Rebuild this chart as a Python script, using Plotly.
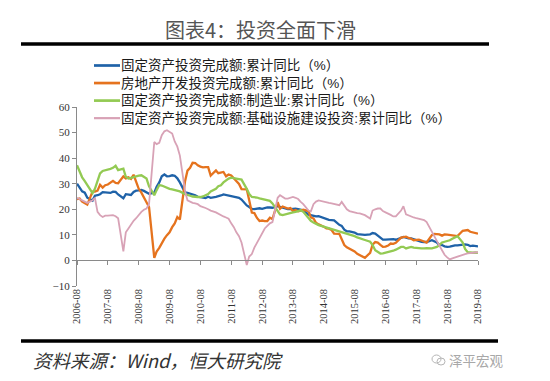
import pandas as pd
import plotly.graph_objects as go

# ---------------- data (monthly cumulative YoY, %, Jan not published) ----------------
months = [d for d in pd.date_range("2006-08-01", "2019-08-01", freq="MS") if d.month != 1]

fai_total = [
    30.0, 28.5, 27.0, 26.5, 24.5,
    23.4, 25.3, 25.5, 25.9, 26.7, 26.6, 26.7, 26.4, 26.9, 26.8, 25.8,
    24.3, 25.9, 25.7, 25.6, 26.8, 27.3, 27.4, 27.6, 27.2, 26.8, 26.1,
    26.5, 28.8, 30.5, 32.9, 33.6, 32.9, 33.0, 33.3, 33.1, 32.1, 30.5,
    26.6, 26.4, 26.1, 25.9, 25.5, 24.9, 24.8, 24.5, 24.4, 24.9, 24.5,
    24.9, 25.0, 25.4, 25.8, 25.6, 25.4, 25.0, 24.9, 24.9, 24.5, 23.8,
    21.5, 20.9, 20.2, 20.1, 20.4, 20.4, 20.2, 20.5, 20.7, 20.7, 20.6,
    21.2, 20.9, 20.6, 20.4, 20.1, 20.1, 20.3, 20.2, 20.1, 19.9, 19.6,
    17.9, 17.6, 17.3, 17.2, 17.3, 17.0, 16.5, 16.1, 15.9, 15.8, 15.7,
    13.9, 13.5, 12.0, 11.4, 11.4, 11.2, 10.9, 10.3, 10.2, 10.2, 10.0,
    10.2, 10.7, 10.5, 9.6, 9.0, 8.1, 8.1, 8.2, 8.3, 8.3, 8.1,
    8.9, 9.2, 8.9, 8.6, 8.6, 8.3, 7.8, 7.5, 7.3, 7.2, 7.2,
    7.9, 7.5, 7.0, 6.1, 6.0, 5.5, 5.3, 5.4, 5.7, 5.9, 5.9,
    6.1, 6.3, 6.1, 5.6, 5.8, 5.7, 5.5,
]

real_estate = [
    24.0, 24.2, 23.0, 22.3, 21.8,
    26.9, 26.9, 27.3, 29.6, 28.5, 29.4, 29.7, 30.3, 31.1, 30.3, 30.2,
    32.9, 32.1, 32.5, 31.9, 33.5, 30.9, 28.0, 26.5, 24.6, 22.7, 20.9,
    1.0, 3.5, 4.9, 6.8, 8.5, 9.9, 11.0, 13.0, 14.5, 17.0, 16.0,
    31.1, 35.1, 36.2, 38.2, 38.1, 37.2, 36.7, 36.4, 36.5, 36.5, 33.2,
    35.2, 34.1, 34.3, 34.6, 32.9, 33.6, 33.2, 32.0, 31.1, 29.9, 27.9,
    27.8, 23.5, 18.7, 18.5, 16.6, 15.4, 15.6, 15.4, 15.4, 16.7, 16.2,
    22.8, 20.2, 21.1, 20.6, 20.3, 20.5, 19.3, 19.7, 19.2, 19.5, 19.8,
    19.3, 16.8, 16.4, 14.7, 14.1, 13.7, 13.2, 12.5, 12.4, 11.9, 10.5,
    10.4, 8.5, 6.0, 5.1, 4.6, 4.3, 3.5, 2.6, 2.0, 1.3, 1.0,
    3.0, 6.2, 7.2, 7.0, 6.1, 5.3, 5.4, 5.8, 6.6, 6.5, 6.9,
    8.9, 9.1, 9.3, 8.8, 8.5, 7.9, 7.9, 8.1, 7.8, 7.5, 7.0,
    9.9, 10.4, 10.3, 10.2, 9.7, 10.2, 10.1, 9.9, 9.7, 9.7, 9.5,
    11.6, 11.8, 11.9, 11.2, 10.9, 10.6, 10.5,
]

manufacturing = [
    37.2, 35.0, 32.5, 31.0, 29.5,
    26.3, 28.0, 31.0, 34.0, 35.0, 35.2, 35.5, 35.8, 36.2, 37.0, 35.3,
    35.9, 32.7, 32.0, 32.3, 32.7, 33.0, 33.2, 33.3, 32.8, 32.0, 29.0,
    25.5, 27.5, 29.5, 29.3, 28.8, 28.3, 28.0, 27.8, 27.5, 27.3, 27.0,
    25.9, 25.5, 25.3, 25.0, 24.8, 24.8, 24.8, 25.0, 25.5, 26.0, 27.0,
    28.0, 29.0, 29.4, 30.5, 31.4, 32.0, 32.4, 32.3, 32.0, 31.8, 31.6,
    28.0, 26.0, 24.8, 24.8, 24.6, 24.3, 24.0, 23.8, 23.5, 23.3, 22.3,
    19.5, 18.0, 17.7, 18.0, 18.4, 18.6, 18.8, 19.0, 19.3, 19.6, 19.0,
    16.4, 15.5, 14.8, 14.2, 13.8, 13.5, 13.2, 12.9, 12.5, 12.2, 12.0,
    11.2, 11.0, 10.8, 10.5, 10.0, 9.9, 9.5, 9.0, 8.6, 8.2, 8.0,
    7.3, 6.0, 4.0, 3.3, 2.7, 2.8, 3.0, 3.2, 3.4, 3.8, 4.2,
    5.3, 5.3, 4.7, 5.0, 5.3, 5.0, 4.8, 4.6, 4.7, 4.7, 4.8,
    4.7, 5.0, 5.3, 6.0, 7.0, 7.3, 7.6, 7.9, 8.5, 9.0, 9.5,
    7.0, 4.5, 3.2, 3.0, 3.0, 3.1, 3.0,
]

infrastructure = [
    24.5, 24.0, 23.5, 23.0, 22.5,
    23.5, 24.5, 19.0, 17.7, 17.0, 17.5, 17.5, 17.7, 17.7, 17.3, 16.5,
    3.5, 11.0, 12.5, 14.0, 15.5, 16.5, 18.0, 19.0, 19.8, 20.3, 22.0,
    46.3, 45.5, 46.0, 49.0, 50.5, 50.9, 50.2, 49.6, 46.5, 44.5, 41.0,
    27.0, 23.5, 22.9, 22.5, 22.3, 22.0, 21.2, 20.9, 20.5, 20.0, 19.5,
    18.8, 18.3, 17.5, 17.2, 16.8, 16.3, 14.5, 13.0, 11.0, 9.5, 7.0,
    -1.8, 1.5, 2.5, 5.0, 7.0, 9.0, 11.0, 12.5, 13.5, 14.5, 15.0,
    24.5, 25.5, 25.0, 24.2, 24.2, 24.5, 24.8, 24.5, 24.0, 22.9, 22.0,
    19.5, 19.2, 22.0, 23.0, 23.5, 23.2, 22.9, 22.8, 22.5, 22.3, 22.0,
    21.6, 22.9, 21.5, 20.0, 19.3, 19.0, 18.8, 18.5, 18.4, 18.0, 17.7,
    16.4, 19.5, 20.0, 20.3, 20.3, 19.3, 18.8, 18.4, 17.8, 17.2, 17.2,
    19.5, 21.2, 18.0, 17.5, 17.0, 16.8, 16.5, 16.3, 16.0, 15.8, 15.0,
    11.0, 9.5, 7.2, 5.8, 4.0, 2.2, 1.2, 0.4, 0.8, 1.2, 1.5,
    2.3, 2.5, 2.8, 3.0, 3.0, 3.1, 3.2,
]

series_names = [
    "固定资产投资完成额:累计同比（%）",
    "房地产开发投资完成额:累计同比（%）",
    "固定资产投资完成额:制造业:累计同比（%）",
    "固定资产投资完成额:基础设施建设投资:累计同比（%）",
]
series_values = [fai_total, real_estate, manufacturing, infrastructure]
series_colors = ["#1F62A8", "#E5731E", "#93CA53", "#D8A2B6"]
series_widths = [2.3, 2.3, 2.3, 1.8]

tick_dates = list(pd.date_range("2006-08-01", "2019-08-01", freq="12MS"))
tick_labels = [d.strftime("%Y-%m") for d in tick_dates]

title_text = "图表4：投资全面下滑"
source_text = "资料来源：Wind，恒大研究院"
brand_text = "泽平宏观"

# ---------------- geometry ----------------
OFF = 8                      # default body margin of the written page
W, H = 550 - OFF, 381 - OFF  # figure size so that it fits the window
PLOT_L, PLOT_R, PLOT_T, PLOT_B = 77, 478, 107, 286   # plot area in window pixels
L = PLOT_L - OFF
T = PLOT_T - OFF
R = W - (PLOT_R - OFF)
B = H - (PLOT_B - OFF)
PW, PH = W - L - R, H - T - B


def px(x):
    """window x pixel -> paper coordinate"""
    return (x - OFF - L) / PW


def py(y):
    """window y pixel -> paper coordinate"""
    return (H - B - (y - OFF)) / PH


fig = go.Figure()
for name, vals, col, w in zip(series_names, series_values, series_colors, series_widths):
    fig.add_trace(go.Scatter(x=months, y=vals, mode="lines", name=name,
                             line=dict(color=col, width=w), showlegend=False))

# helper trace so the zero-crossing axis is rendered
fig.add_trace(go.Scatter(x=[months[0]], y=[None], xaxis="x2", mode="lines",
                         showlegend=False, hoverinfo="skip"))

axis_font = dict(family="Liberation Serif, Times New Roman, serif", size=11, color="#333333")

fig.update_layout(
    width=W, height=H,
    margin=dict(l=L, r=R, t=T, b=B, pad=0, autoexpand=False),
    paper_bgcolor="white", plot_bgcolor="white",
    font=dict(family="Noto Sans CJK SC", color="#222222"),
    showlegend=False,
    xaxis=dict(
        type="date", range=[months[0], months[-1]],
        tickmode="array", tickvals=tick_dates, ticktext=tick_labels,
        tickangle=-90, tickfont=dict(axis_font, size=10.5), ticks="", showline=False,
        showgrid=False, zeroline=False, automargin=False,
    ),
    xaxis2=dict(
        type="date", overlaying="x", matches="x", anchor="free",
        position=10 / 70,
        tickmode="array", tickvals=tick_dates, showticklabels=False,
        ticks="outside", ticklen=4, tickcolor="#8A8A8A", tickwidth=1,
        showline=True, linecolor="#8A8A8A", linewidth=1, showgrid=False,
        zeroline=False,
    ),
    yaxis=dict(
        range=[-10, 60], dtick=10, tick0=0,
        ticks="outside", ticklen=4, tickcolor="#8A8A8A",
        showline=True, linecolor="#8A8A8A", linewidth=1,
        showgrid=False, zeroline=False, tickfont=axis_font, automargin=False,
    ),
)

# legend (drawn manually to match the compact original layout)
LEG_FONT = 13.5
row_gap = 1.3 * LEG_FONT
first_row = 65.5
for i, (col, w) in enumerate(zip(series_colors, series_widths)):
    ry = first_row + i * row_gap
    fig.add_shape(type="line", xref="paper", yref="paper", x0=px(94), x1=px(120),
                  y0=py(ry), y1=py(ry), line=dict(color=col, width=w + 0.4))
    fig.add_annotation(text=series_names[i], x=px(120), y=py(ry),
                       xref="paper", yref="paper", showarrow=False,
                       xanchor="left", yanchor="middle", borderpad=0,
                       font=dict(family="Liberation Sans, Noto Sans CJK SC",
                                 size=LEG_FONT, color="#1A1A1A"))

# title, rules, source and brand
fig.add_annotation(text=title_text, x=px(260), y=py(30), xref="paper", yref="paper",
                   showarrow=False, xanchor="center", yanchor="middle",
                   font=dict(family="Noto Sans CJK SC", size=20, color="#555555"))
fig.add_shape(type="line", xref="paper", yref="paper", x0=px(21), x1=px(489),
              y0=py(44), y1=py(44), line=dict(color="black", width=3.5))
fig.add_shape(type="line", xref="paper", yref="paper", x0=px(21), x1=px(498),
              y0=py(341), y1=py(341), line=dict(color="black", width=3.5))
fig.add_annotation(text="<i>" + source_text + "</i>", x=px(31), y=py(360),
                   xref="paper", yref="paper", showarrow=False,
                   xanchor="left", yanchor="middle",
                   font=dict(family="Noto Sans CJK SC", size=18.5, color="#333333"))
fig.add_annotation(text=brand_text, x=px(506), y=py(360), xref="paper", yref="paper",
                   showarrow=False, xanchor="right", yanchor="middle",
                   font=dict(family="Noto Sans CJK SC", size=13.5, color="#A8A8A8"))
fig.add_shape(type="circle", xref="paper", yref="paper", x0=px(432), x1=px(441),
              y0=py(355), y1=py(363), line=dict(color="#B5B5B5", width=1))
fig.add_shape(type="circle", xref="paper", yref="paper", x0=px(437), x1=px(445),
              y0=py(358), y1=py(365), line=dict(color="#B5B5B5", width=1))

fig.write_html("out.html")
